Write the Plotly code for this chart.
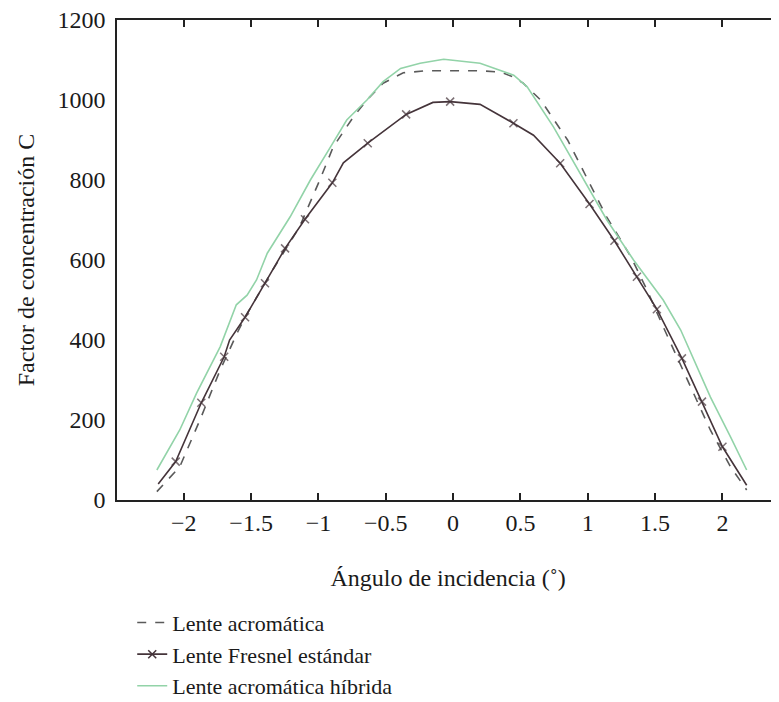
import plotly.graph_objects as go

# angle of incidence (deg) / concentration factor
acro_x = [-2.20, -2.03, -1.88, -1.73, -1.60, -1.54, -1.34, -1.14, -0.99, -0.89, -0.74, -0.64,
          -0.52, -0.42, -0.37, -0.20, 0.0, 0.20, 0.35, 0.45, 0.52, 0.65, 0.85, 0.99, 1.14,
          1.32, 1.44, 1.56, 1.76, 1.91, 2.06, 2.18]
acro_y = [21, 83, 200, 325, 420, 460, 575, 683, 800, 883, 958, 1000,
          1042, 1058, 1068, 1073, 1073, 1073, 1070, 1057, 1042, 1000, 900, 808, 708,
          608, 525, 433, 283, 175, 83, 25]

fresnel_x = [-2.19, -2.06, -1.87, -1.70, -1.66, -1.545, -1.397, -1.248, -1.10, -0.897, -0.815,
             -0.634, -0.349, -0.15, -0.022, 0.20, 0.448, 0.597, 0.795, 1.013, 1.198, 1.365,
             1.513, 1.699, 1.848, 2.0, 2.18]
fresnel_y = [40, 96, 243, 358, 400, 457, 542, 629, 702, 793, 843,
             892, 964, 994, 996, 989, 942, 912, 842, 740, 648, 558,
             477, 354, 246, 133, 37]
fresnel_marked = [False, True, True, True, False, True, True, True, True, True, False,
                  True, True, False, True, False, True, False, True, True, True, True,
                  True, True, True, True, False]

hib_x = [-2.20, -2.03, -1.905, -1.73, -1.61, -1.53, -1.46, -1.38, -1.21, -1.06, -0.91, -0.79,
         -0.64, -0.52, -0.39, -0.245, -0.07, 0.20, 0.45, 0.55, 0.745, 0.944, 1.142, 1.34,
         1.49, 1.56, 1.69, 1.91, 2.06, 2.18]
hib_y = [75, 175, 267, 383, 488, 512, 550, 617, 708, 800, 883, 950,
         1000, 1046, 1079, 1092, 1102, 1092, 1062, 1033, 933, 817, 700, 600,
         533, 500, 425, 258, 158, 75]

tick_vals = [-2, -1.5, -1, -0.5, 0, 0.5, 1, 1.5, 2]
tick_text = ['\u22122', '\u22121.5', '\u22121', '\u22120.5', '0', '0.5', '1', '1.5', '2']

names = ['Lente acromática', 'Lente Fresnel estándar', 'Lente acromática híbrida']

dark = '#45343a'
gray = '#5a5a5a'
green = '#92d3a8'
font = 'Liberation Serif'

fig = go.Figure()

fig.add_trace(go.Scatter(x=acro_x, y=acro_y, mode='lines', name=names[0],
                         line=dict(color=gray, width=1.6, dash='dash')))

fig.add_trace(go.Scatter(x=fresnel_x, y=fresnel_y, mode='lines+markers', showlegend=False,
                         line=dict(color=dark, width=1.6),
                         marker=dict(symbol='x-thin', color=dark,
                                     size=[8 if m else 0 for m in fresnel_marked],
                                     line=dict(color=dark, width=1.5))))
# legend entry only
fig.add_trace(go.Scatter(x=[None], y=[None], mode='lines+markers', name=names[1],
                         line=dict(color=dark, width=1.6),
                         marker=dict(symbol='x-thin', color=dark, size=8,
                                     line=dict(color=dark, width=1.5))))

fig.add_trace(go.Scatter(x=hib_x, y=hib_y, mode='lines', name=names[2],
                         line=dict(color=green, width=1.6)))

# page body has an 8px margin, so the figure is offset to compensate;
# it is taller than the window so the legend fits without pushing margins
fig.update_layout(
    width=771, height=740,
    margin=dict(l=109, r=0, t=12, b=248),
    paper_bgcolor='white', plot_bgcolor='white',
    font=dict(family=font, size=24, color='#1a1a1a'),
    legend=dict(x=0.023, y=-0.212, xanchor='left', yanchor='top',
                font=dict(size=22, family=font), tracegroupgap=0,
                bgcolor='rgba(0,0,0,0)'),
)

fig.update_xaxes(range=[-2.496, 2.42], tickvals=tick_vals, ticktext=tick_text,
                 showgrid=False, zeroline=False, showline=True, linecolor='#222',
                 linewidth=1.5, mirror='ticks', ticks='inside', ticklen=7,
                 tickwidth=1.5, tickcolor='#222', tickfont=dict(size=24),
                 automargin=False, ticklabeloverflow='allow',
                 title=dict(text='Ángulo de incidencia (˚)', font=dict(size=24), standoff=35))

fig.update_yaxes(range=[0, 1200], tickvals=[0, 200, 400, 600, 800, 1000, 1200],
                 showgrid=False, zeroline=False, showline=True, linecolor='#222',
                 linewidth=1.5, ticks='', ticklabelstandoff=5, tickfont=dict(size=24),
                 automargin=False, ticklabeloverflow='allow',
                 title=dict(text='Factor de concentración C', font=dict(size=24), standoff=16))

fig.write_html('out.html')
